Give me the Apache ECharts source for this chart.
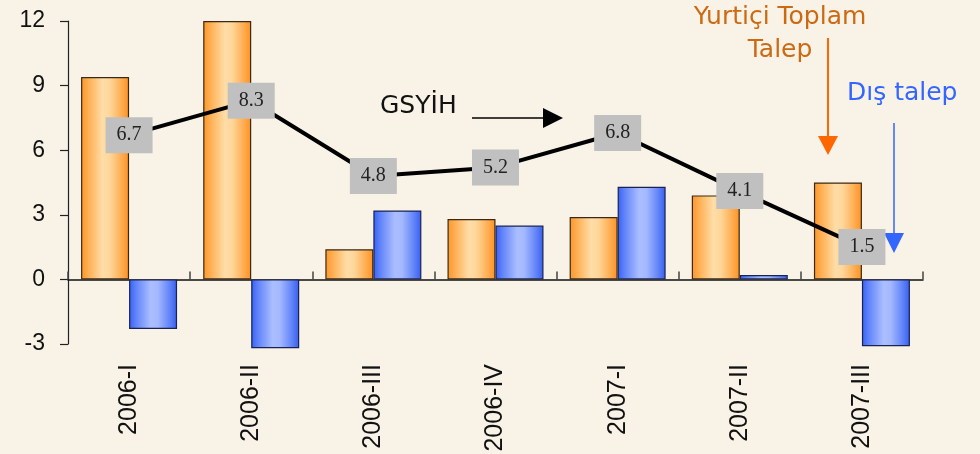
<!DOCTYPE html>
<html>
<head>
<meta charset="utf-8">
<script src="https://cdn.jsdelivr.net/npm/echarts@6/dist/echarts.min.js"></script>
<style>
  html, body { margin: 0; padding: 0; background: #F9F3E7; }
  #chart { width: 980px; height: 454px; }
</style>
</head>
<body>
<div id="chart"></div>
<script>
// Quarterly growth contributions
const quarters = ['2006-I', '2006-II', '2006-III', '2006-IV', '2007-I', '2007-II', '2007-III'];
const domesticDemand = [9.4, 12.0, 1.4, 2.8, 2.9, 3.9, 4.5];   // Yurtiçi Toplam Talep
const externalDemand = [-2.3, -3.2, 3.2, 2.5, 4.3, 0.2, -3.1]; // Dış talep
const gdpGrowth = [6.7, 8.3, 4.8, 5.2, 6.8, 4.1, 1.5];         // GSYİH
const yTicks = { min: -3, max: 12, step: 3 };

const orangeFill = {
  type: 'linear', x: 0, y: 0, x2: 1, y2: 0,
  colorStops: [
    { offset: 0, color: '#FF9526' },
    { offset: 0.15, color: '#FFAE52' },
    { offset: 0.45, color: '#FFDDA8' },
    { offset: 0.6, color: '#FFD699' },
    { offset: 0.85, color: '#FFAC50' },
    { offset: 1, color: '#FF9020' }
  ]
};
const blueFill = {
  type: 'linear', x: 0, y: 0, x2: 1, y2: 0,
  colorStops: [
    { offset: 0, color: '#3560F8' },
    { offset: 0.15, color: '#6385FA' },
    { offset: 0.45, color: '#AABEFF' },
    { offset: 0.6, color: '#A4B8FF' },
    { offset: 0.85, color: '#6083F8' },
    { offset: 1, color: '#375DF0' }
  ]
};

const chart = echarts.init(document.getElementById('chart'), null, { renderer: 'canvas' });

chart.setOption({
  backgroundColor: '#F9F3E7',
  animation: false,
  grid: { left: 68, right: 57, top: 21, bottom: 110, containLabel: false, outerBoundsMode: 'none' },
  xAxis: [
    {
      type: 'category',
      data: quarters,
      position: 'bottom',
      axisLine: { show: false, onZero: false },
      axisTick: { show: false },
      axisLabel: {
        rotate: 90,
        margin: 20,
        fontSize: 25,
        fontFamily: '"Liberation Sans", Arial, sans-serif',
        color: '#111'
      }
    },
    {
      type: 'category',
      data: quarters,
      position: 'top',
      axisLine: { show: true, onZero: true, lineStyle: { color: '#111', width: 1.5 } },
      axisTick: { show: true, inside: true, length: -8, lineStyle: { color: '#444', width: 1.5 } },
      axisLabel: { show: false }
    }
  ],
  yAxis: {
    type: 'value',
    min: yTicks.min,
    max: yTicks.max,
    interval: yTicks.step,
    axisLine: { show: true, lineStyle: { color: '#222', width: 1.2 } },
    axisTick: { show: true, length: 8, lineStyle: { color: '#222', width: 1.2 } },
    splitLine: { show: false },
    axisLabel: {
      margin: 23,
      fontSize: 23,
      fontFamily: '"Liberation Sans", Arial, sans-serif',
      color: '#111'
    }
  },
  series: [
    {
      name: 'Yurtiçi Toplam Talep',
      type: 'bar',
      xAxisIndex: 0,
      data: domesticDemand,
      barWidth: 48,
      barGap: '0%',
      clip: false,
      itemStyle: { color: orangeFill, borderColor: '#3A2A14', borderWidth: 1.2 }
    },
    {
      name: 'Dış talep',
      type: 'bar',
      xAxisIndex: 0,
      data: externalDemand,
      barWidth: 48,
      barGap: '0%',
      clip: false,
      itemStyle: { color: blueFill, borderColor: '#1A2350', borderWidth: 1.2 }
    },
    {
      name: 'GSYİH',
      type: 'line',
      xAxisIndex: 0,
      data: gdpGrowth,
      symbol: 'circle',
      symbolSize: 1,
      z: 5,
      lineStyle: { color: '#000', width: 4 },
      itemStyle: { color: '#000' },
      label: {
        show: true,
        position: 'inside',
        formatter: p => p.value.toFixed(1),
        backgroundColor: '#C0C0C0',
        width: 47,
        height: 36,
        lineHeight: 36,
        align: 'center',
        verticalAlign: 'middle',
        fontSize: 20,
        fontFamily: '"Liberation Serif", "Times New Roman", serif',
        color: '#222'
      }
    }
  ],
  graphic: [
    {
      type: 'text', x: 380, y: 94,
      style: { text: 'GSYİH', font: '25px "DejaVu Sans", sans-serif', fill: '#111' }
    },
    { type: 'line', shape: { x1: 472, y1: 118, x2: 548, y2: 118 }, style: { stroke: '#000', lineWidth: 1.5 } },
    { type: 'polygon', shape: { points: [[543, 108], [563, 118], [543, 128]] }, style: { fill: '#000' } },

    {
      type: 'text', x: 780, y: 1,
      style: {
        text: 'Yurtiçi Toplam\nTalep', align: 'center', verticalAlign: 'top',
        font: '25px "DejaVu Sans", sans-serif', lineHeight: 33, fill: '#CC6A14'
      }
    },
    { type: 'line', shape: { x1: 828, y1: 38, x2: 828, y2: 140 }, style: { stroke: '#FF6600', lineWidth: 2 } },
    { type: 'polygon', shape: { points: [[818, 136], [838, 136], [828, 155]] }, style: { fill: '#FF6600' } },

    {
      type: 'text', x: 847, y: 81,
      style: { text: 'Dış talep', font: '25px "DejaVu Sans", sans-serif', fill: '#3366FF' }
    },
    { type: 'line', shape: { x1: 894, y1: 123, x2: 894, y2: 236 }, style: { stroke: '#3366FF', lineWidth: 1.5 } },
    { type: 'polygon', shape: { points: [[884, 233], [904, 233], [894, 253]] }, style: { fill: '#3366FF' } }
  ]
});
</script>
</body>
</html>
